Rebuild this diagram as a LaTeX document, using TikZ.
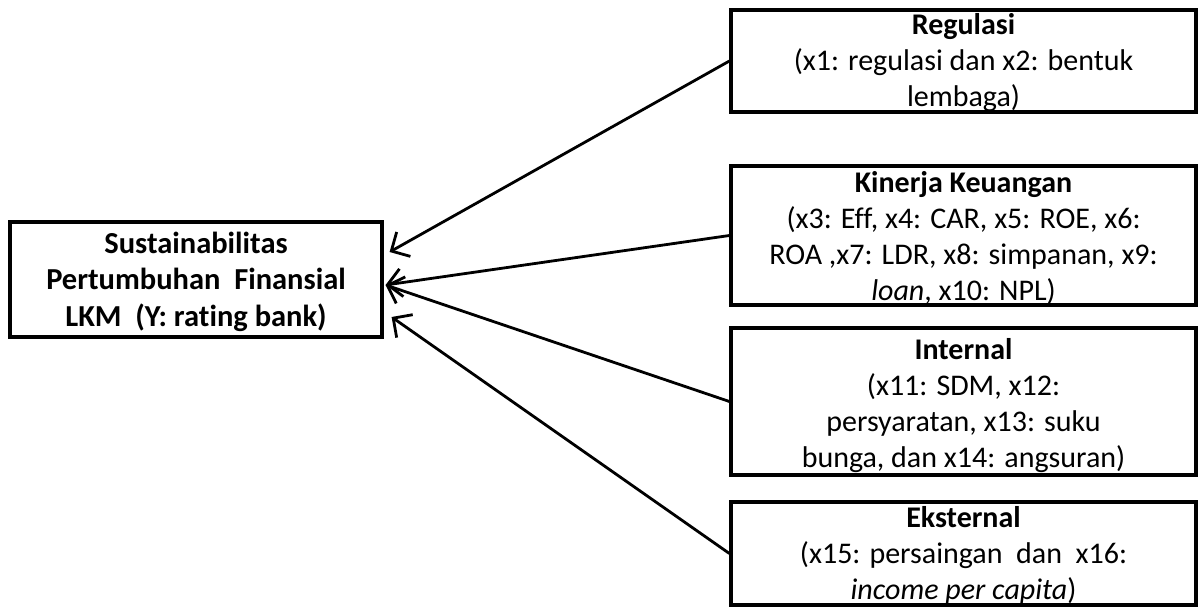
\documentclass[tikz,border=0pt]{standalone}
\usepackage{fontspec}
\setmainfont[Ligatures=NoCommon]{Carlito}
\usetikzlibrary{arrows.meta,calc}
\newcommand{\rfs}{\fontsize{30}{36}\selectfont}
\newcommand{\lfs}{\fontsize{30.5}{36.5}\selectfont}
\begin{document}
\begin{tikzpicture}[x=1pt,y=-1pt,
  box/.style={draw,line width=3.2pt,inner sep=0pt},
  txt/.style={inner sep=0pt,align=center,font=\rfs},
  conn/.style={line width=2.8pt,-{Straight Barb[length=14pt,width=28pt,line width=2.8pt]}}]
\useasboundingbox (0,0) rectangle (1198,613);
% boxes
\node[box, minimum width=372pt, minimum height=115pt] (Y) at (196,279.5) {};
\node[box, minimum width=465pt, minimum height=102pt] (R) at (963.5,61) {};
\node[box, minimum width=465pt, minimum height=139pt] (K) at (963.5,235.5) {};
\node[box, minimum width=465pt, minimum height=147pt] (I) at (963.5,401.5) {};
\node[box, minimum width=465pt, minimum height=103pt] (E) at (963.5,553.5) {};
% texts
\node[txt, font=\lfs\bfseries] (Yt) at ($(Y.center)+(0,2)$)
  {Sustainabilitas\\Pertumbuhan\ \ Finansial\\LKM\ \ (Y: rating bank)};
\node[txt] (Rt) at ($(R.center)+(0,1.5)$)
  {\textbf{Regulasi}\\(x1: regulasi dan x2: bentuk\\lembaga)};
\node[txt] (Kt) at ($(K.center)+(0,2.5)$)
  {\textbf{Kinerja Keuangan}\\(x3: Eff, x4: CAR, x5: ROE, x6:\\ROA ,x7: LDR,\ x8: simpanan, x9:\\\textit{loan}, x10: NPL)};
\node[txt] (It) at ($(I.center)+(0,4.5)$)
  {\textbf{Internal}\\(x11: SDM, x12:\\persyaratan, x13: suku\\bunga, dan x14: angsuran)};
\node[txt] (Et) at ($(E.center)+(0,1.5)$)
  {\textbf{Eksternal}\\(x15: persaingan\ \ dan\ \ x16:\\\textit{income per capita})};
% connectors
\coordinate (t1) at ($(Y.east)+(6,-27.5)$);
\coordinate (t2) at ($(Y.east)+(2,5.5)$);
\coordinate (t4) at ($(Y.east)+(8,37.5)$);
\draw[conn] (R.west) -- (t1);
\draw[conn] (K.west) -- (t2);
\draw[conn] (I.west) -- (t2);
\draw[conn] (E.west) -- (t4);
\end{tikzpicture}
\end{document}
